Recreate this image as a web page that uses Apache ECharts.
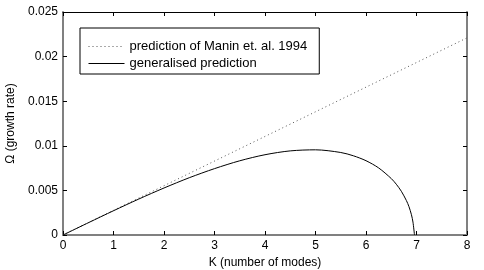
<!DOCTYPE html>
<html><head><meta charset="utf-8">
<script src="https://cdn.jsdelivr.net/npm/echarts@6/dist/echarts.min.js"></script>
<style>html,body{margin:0;padding:0;background:#fff}#c{width:484px;height:270px}</style>
</head><body><div id="c"></div>
<script>
// Data
const manK = [0, 8];
const manOmega = [0, 0.0221];
const genK = [0, 0.5, 1, 1.5, 2, 2.5, 3, 3.5, 4, 4.5, 5, 5.5, 5.75, 6, 6.25, 6.5, 6.6, 6.7, 6.8, 6.85, 6.9, 6.93, 6.96];
const genOmega = [0, 0.00137, 0.00272, 0.00403, 0.00527, 0.00642, 0.00744, 0.00832, 0.00900, 0.00943, 0.00955, 0.00925, 0.00888, 0.00833, 0.00752, 0.00633, 0.00569, 0.00490, 0.00386, 0.00319, 0.00227, 0.00145, 0];
const seriesNames = ['prediction of Manin et. al. 1994', 'generalised prediction'];
const xLabel = 'K (number of modes)';
const yLabel = 'Ω (growth rate)';
const yTicks = ['0', '0.005', '0.01', '0.015', '0.02', '0.025'];

const font = 'Liberation Sans, Arial, Helvetica, sans-serif';
const chart = echarts.init(document.getElementById('c'));
const axisGray = '#808080';
chart.setOption({
  animation: false,
  grid: {left: 63, right: 17, top: 12, bottom: 35, containLabel: false, outerBoundsMode: 'none'},
  legend: {
    left: 80, top: 28, orient: 'vertical',
    padding: [12, 12, 4, 8], itemGap: 4, itemWidth: 36, itemHeight: 12,
    borderColor: '#000', borderWidth: 1, backgroundColor: '#fff',
    itemStyle: {opacity: 0},
    lineStyle: {width: 1},
    textStyle: {fontFamily: font, fontSize: 13, color: '#000'},
    data: seriesNames
  },
  xAxis: [{
    type: 'value', min: 0, max: 8, interval: 1,
    name: xLabel, nameLocation: 'middle', nameGap: 21,
    nameTextStyle: {fontFamily: font, fontSize: 12, color: '#000'},
    axisLine: {onZero: false, lineStyle: {color: axisGray, width: 2}},
    axisTick: {inside: true, length: 4, lineStyle: {color: '#000', width: 1}},
    axisLabel: {fontFamily: font, fontSize: 12, color: '#000', margin: 5},
    splitLine: {show: false}
  }, {
    type: 'value', min: 0, max: 8, interval: 1, position: 'top',
    axisLine: {onZero: false, lineStyle: {color: '#000', width: 1}},
    axisTick: {inside: true, length: 4, lineStyle: {color: '#000', width: 1}},
    axisLabel: {show: false}, splitLine: {show: false}
  }],
  yAxis: [{
    type: 'value', min: 0, max: 0.025, interval: 0.005,
    name: yLabel, nameLocation: 'middle', nameGap: 44,
    nameTextStyle: {fontFamily: font, fontSize: 12, color: '#000'},
    axisLine: {onZero: false, lineStyle: {color: axisGray, width: 2}},
    axisTick: {inside: true, length: 4, lineStyle: {color: '#000', width: 1}},
    axisLabel: {fontFamily: font, fontSize: 12, color: '#000', margin: 5,
      formatter: (v) => yTicks[Math.round(v / 0.005)]},
    splitLine: {show: false}
  }, {
    type: 'value', min: 0, max: 0.025, interval: 0.005, position: 'right',
    axisLine: {onZero: false, lineStyle: {color: axisGray, width: 2}},
    axisTick: {inside: true, length: 4, lineStyle: {color: '#000', width: 1}},
    axisLabel: {show: false}, splitLine: {show: false}
  }],
  series: [{
    name: seriesNames[0], type: 'line', showSymbol: false, symbol: 'none',
    data: manK.map((k, i) => [k, manOmega[i]]),
    lineStyle: {color: '#555', width: 1, type: [1, 3]}, itemStyle: {color: '#555'}
  }, {
    name: seriesNames[1], type: 'line', showSymbol: false, symbol: 'none', smooth: 0.3,
    data: genK.map((k, i) => [k, genOmega[i]]),
    lineStyle: {color: '#000', width: 1}, itemStyle: {color: '#000'}
  }]
});
</script></body></html>
